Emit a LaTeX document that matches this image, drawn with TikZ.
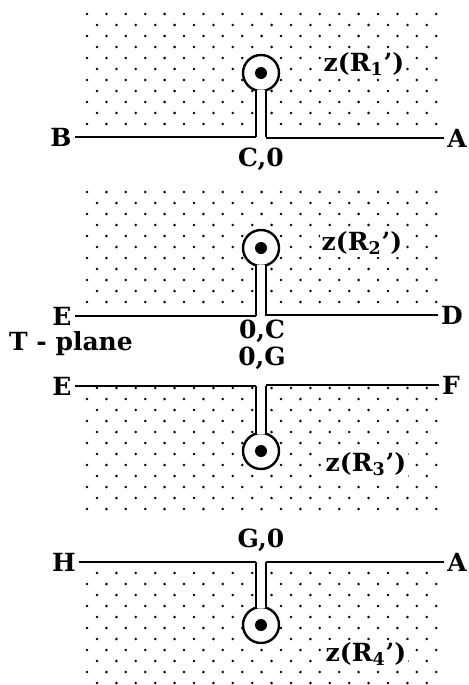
\documentclass[tikz,border=0pt]{standalone}
\usepackage{fontspec}
\setmainfont{DejaVu Serif}
\usepackage{tikz}
\usetikzlibrary{positioning}

% stippled half-plane: #1 first row y, #2 last row index, #3 row phase
\newcommand{\stipple}[3]{%
  \foreach \r in {0,...,#2} {
    \pgfmathtruncatemacro\rowodd{mod(\r+#3,2)}
    \pgfmathsetmacro\rowy{#1+11*\r}
    \ifnum\rowodd=1 \def\rowx{97}\def\rown{17}\else \def\rowx{87}\def\rown{18}\fi
    \foreach \c in {0,...,\rown} \fill (\rowx+19.4*\c,\rowy) circle (1.4);
  }}

\begin{document}
\begin{tikzpicture}[
    x=0.5pt,y=-0.5pt,
    lbl/.style={font=\fontsize{12.5}{14}\selectfont\bfseries,inner sep=1.5pt},
    zlbl/.style={lbl,fill=white,inner sep=1pt},
    cut/.style={line width=1.2pt},
    ring/.style={circle,draw,line width=1.2pt,fill=white,minimum size=18pt,inner sep=0pt,outer sep=0pt},
    pole/.style={circle,fill,minimum size=6pt,inner sep=0pt},
  ]
    \useasboundingbox (0,0) rectangle (468,685);

    % stippled regions
    \stipple{14}{10}{0}
    \stipple{192}{10}{0}
    \stipple{388}{11}{1}
    \stipple{573}{10}{1}

    % upper plane
    \node[ring] (k1) at (261,73) {};
    \node[pole] (p1) at (k1) {};
    \node[lbl] (B) at (61,137) {B};
    \node[lbl] (A1) at (457,138) {A};
    \node[lbl] (c0) at (261,159) {C,0};
    \node[zlbl] (z1) at (364,64) {z(R\textsubscript{1}')};

    % middle strip
    \node[ring] (k2) at (261,248) {};
    \node[pole] (p2) at (k2) {};
    \node[ring] (k3) at (261,451) {};
    \node[pole] (p3) at (k3) {};
    \node[lbl] (E1) at (62,316) {E};
    \node[lbl] (D) at (452,315) {D};
    \node[lbl] (E2) at (62,386) {E};
    \node[lbl] (F) at (451,385) {F};
    \node[lbl] (oc) at (262,331) {0,C};
    \node[lbl] (og) at (262,358) {0,G};
    \node[lbl] (tp) at (71,344) {T - plane};
    \node[zlbl] (z2) at (362,243) {z(R\textsubscript{2}')};
    \node[zlbl] (z3) at (366,464) {z(R\textsubscript{3}')};

    % lower plane
    \node[ring] (k4) at (261,625) {};
    \node[pole] (p4) at (k4) {};
    \node[lbl] (H) at (64,562) {H};
    \node[lbl] (A2) at (457,562) {A};
    \node[lbl] (g0) at (261,540) {G,0};
    \node[zlbl] (z4) at (366,654) {z(R\textsubscript{4}')};

    % keyhole channels
    \fill[white] (k1.-107) rectangle (k1.-73 |- B);
    \fill[white] (k2.-107) rectangle (k2.-73 |- E1);
    \fill[white] (k3.107) rectangle (k3.73 |- E2);
    \fill[white] (k4.107) rectangle (k4.73 |- H);
    \draw[cut] (k1.-107) -- (k1.-107 |- B) (k1.-73) -- (k1.-73 |- B);
    \draw[cut] (k2.-107) -- (k2.-107 |- E1) (k2.-73) -- (k2.-73 |- E1);
    \draw[cut] (k3.107) -- (k3.107 |- E2) (k3.73) -- (k3.73 |- E2);
    \draw[cut] (k4.107) -- (k4.107 |- H) (k4.73) -- (k4.73 |- H);

    % boundary lines
    \draw[cut] (B) -- (B -| k1.-107);
    \draw[cut] (A1) -- (A1 -| k1.-73);
    \draw[cut] (E1) -- (E1 -| k2.-107);
    \draw[cut] (D) -- (D -| k2.-73);
    \draw[cut] (E2) -- (E2 -| k3.107);
    \draw[cut] (F) -- (F -| k3.73);
    \draw[cut] (H) -- (H -| k4.107);
    \draw[cut] (A2) -- (A2 -| k4.73);
  \end{tikzpicture}
\end{document}
